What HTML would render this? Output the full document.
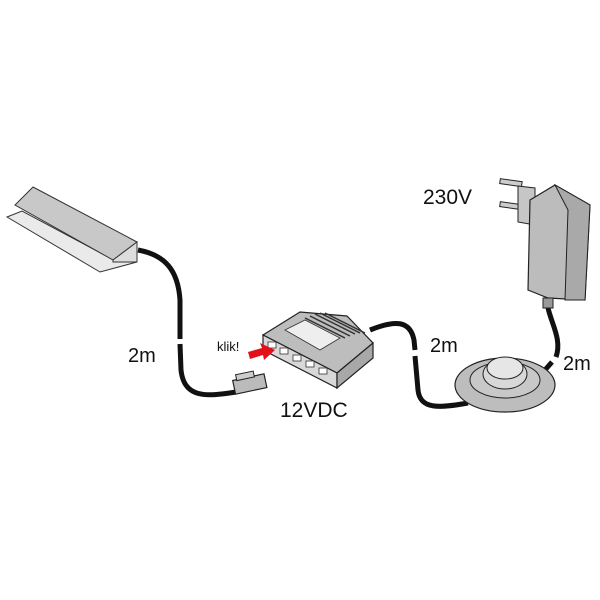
<!DOCTYPE html>
<html><head><style>
html,body{margin:0;padding:0;background:#fff;}
svg{display:block}
text{font-family:"Liberation Sans",sans-serif;fill:#111}
</style></head><body>
<svg width="600" height="600" viewBox="0 0 600 600" xmlns="http://www.w3.org/2000/svg">
<g stroke="#111" stroke-width="5" fill="none" stroke-linecap="butt">
<path d="M138,250 C165,255 178,270 180,300 L180,339"/>
<path d="M180,344 L181,370 C184,398 205,397 236,392"/>
<path d="M370,330 C395,320 410,320 414,340 L415,350"/>
<path d="M415,356 L418,390 C420,410 440,408 468,403"/>
<path d="M538,378 L552,362"/>
<path d="M556,357 C562,340 552,325 548,308"/>
</g>
<!-- profile -->
<polygon points="7,217 100,272 137,262 136,246 110,258 22,211" fill="#eaeaea" stroke="#333" stroke-width="1"/>
<polygon points="33,187 137,242 113,260 15,205" fill="#c8c8c8" stroke="#333" stroke-width="1"/>
<polygon points="137,242 137,262 113,262 113,260" fill="#ddd" stroke="#333" stroke-width="1"/>
<!-- rj connector -->
<g transform="rotate(-12 250 385)">
<rect x="234" y="377" width="32" height="14" fill="#bbb" stroke="#222" stroke-width="1.2"/>
<rect x="238" y="372" width="18" height="6" fill="#ccc" stroke="#222" stroke-width="1"/>
</g>
<!-- hub -->
<polygon points="263,335 300,312 347,316 373,343 337,373" fill="#bdbdbd" stroke="#222" stroke-width="1.2"/>
<polygon points="263,335 337,373 337,388 263,350" fill="#d8d8d8" stroke="#222" stroke-width="1.2"/>
<polygon points="337,373 373,343 373,358 337,388" fill="#a8a8a8" stroke="#222" stroke-width="1.2"/>
<polygon points="285,330 305,320 340,338 320,350" fill="#eee" stroke="#333" stroke-width="0.8"/>
<g stroke="#333" stroke-width="1.5">
<line x1="305" y1="318" x2="345" y2="338"/><line x1="310" y1="316" x2="350" y2="336"/><line x1="315" y1="314" x2="355" y2="334"/><line x1="320" y1="313" x2="360" y2="333"/><line x1="325" y1="313" x2="365" y2="333"/>
</g>
<g fill="#fff" stroke="#333" stroke-width="0.8">
<rect x="268" y="342" width="8" height="6"/><rect x="280" y="348" width="8" height="6"/><rect x="293" y="355" width="8" height="6"/><rect x="306" y="361" width="8" height="6"/><rect x="319" y="368" width="8" height="6"/>
</g>
<polygon points="248,352 262,348 260,343 275,350 264,360 263,355 250,359" fill="#e3101a"/>
<!-- switch -->
<ellipse cx="505" cy="385" rx="50" ry="27" fill="#bdbdbd" stroke="#222" stroke-width="1.2"/>
<ellipse cx="505" cy="380" rx="35" ry="18" fill="#c8c8c8" stroke="#222" stroke-width="1"/>
<ellipse cx="505" cy="374" rx="22" ry="15" fill="#d8d8d8" stroke="#222" stroke-width="1"/>
<ellipse cx="505" cy="368" rx="18" ry="11" fill="#e6e6e6" stroke="#222" stroke-width="1"/>
<!-- adapter -->
<rect x="500" y="180" width="22" height="5" fill="#ccc" stroke="#222" stroke-width="1" transform="rotate(8 510 182)"/>
<rect x="500" y="203" width="22" height="5" fill="#ccc" stroke="#222" stroke-width="1" transform="rotate(8 510 205)"/>
<polygon points="518,186 535,188 535,225 518,222" fill="#c6c6c6" stroke="#222" stroke-width="1"/>
<polygon points="530,200 555,185 590,205 585,300 548,298 528,290" fill="#bcbcbc" stroke="#222" stroke-width="1.2"/>
<polygon points="555,185 590,205 585,300 565,300 568,210" fill="#a9a9a9" stroke="#222" stroke-width="1"/>
<rect x="543" y="298" width="10" height="10" fill="#999" stroke="#222" stroke-width="1"/>
<text x="128" y="362" font-size="20">2m</text>
<text x="217" y="351" font-size="13">klik!</text>
<text x="280" y="417" font-size="21">12VDC</text>
<text x="423" y="204" font-size="21">230V</text>
<text x="430" y="352" font-size="20">2m</text>
<text x="563" y="370" font-size="20">2m</text>
</svg>
</body></html>
